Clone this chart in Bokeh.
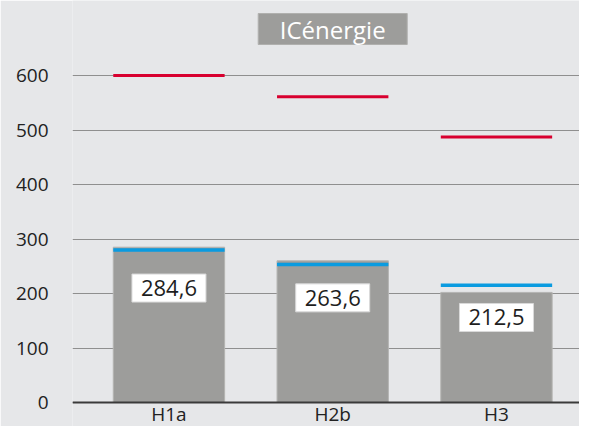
from bokeh.plotting import figure
from bokeh.models import Range1d, FixedTicker, ColumnDataSource, Span
from bokeh.core.properties import value
from bokeh.embed import file_html
from bokeh.resources import INLINE

categories = ["H1a", "H2b", "H3"]
bar_values = [285, 260, 202]
blue_values = [280, 253, 215]
red_values = [600, 561, 487]
label_texts = ["284,6", "263,6", "212,5"]
label_pos = [210, 192, 156]
y_ticks = [0, 100, 200, 300, 400, 500, 600]
title_text = "ICénergie"

FONT = "Open Sans"
BG = "#e6e7e9"
GRAY = "#9d9d9b"

W, H = 579, 426
zero_px = 402  # pixel row of value 0 from top of figure
px_per_unit = (zero_px - 75) / 600
y_start = (zero_px - H) / px_per_unit
y_end = zero_px / px_per_unit

p = figure(width=W, height=H, output_backend="svg", toolbar_location=None,
           x_range=Range1d(-0.089, 3.007), y_range=Range1d(y_start, y_end),
           min_border_left=72, min_border_right=0, min_border_top=0,
           min_border_bottom=0)
p.background_fill_color = BG
p.border_fill_color = BG
p.outline_line_color = None

xs = [i + 0.5 for i in range(len(categories))]
bw = 0.68

src = ColumnDataSource(dict(x=xs, top=bar_values, blue=blue_values, red=red_values,
                            x0=[x - bw / 2 for x in xs], x1=[x + bw / 2 for x in xs],
                            lab=label_texts, ly=label_pos, cat=categories))

# grid
p.xgrid.grid_line_color = None
p.ygrid.ticker = FixedTicker(ticks=y_ticks)
p.ygrid.grid_line_color = "#8f8f8f"
p.ygrid.grid_line_width = 1

p.vbar(x="x", top="top", width=bw, bottom=0, source=src,
       fill_color=GRAY, line_color="#b4b4b2", line_width=1)
p.segment(x0="x0", x1="x1", y0="blue", y1="blue", source=src,
          line_color="#0a9be0", line_width=3.5)
p.segment(x0="x0", x1="x1", y0="red", y1="red", source=src,
          line_color="#d8002f", line_width=3)
p.rect(x="x", y="ly", width=74, height=28, width_units="screen", height_units="screen",
       source=src, fill_color="white", line_color="#d9d9d9", line_width=1)
p.text(x="x", y="ly", text="lab", source=src, text_align="center",
       text_baseline="middle", text_font=value(FONT), text_font_size="22px",
       text_color="#1e1e1e")

# baseline axis line at 0
p.add_layout(Span(location=0, dimension="width", line_color="#3a3a3a", line_width=2))

# category labels below the baseline
cat_y = -11.5 / px_per_unit
p.text(x="x", y=cat_y, text="cat", source=src, text_align="center",
       text_baseline="middle", text_font=value(FONT), text_font_size="19px",
       text_color="#222222")

# title box
title_y = y_end - 28.5 / px_per_unit
p.rect(x=[xs[1]], y=[title_y], width=149, height=31,
       width_units="screen", height_units="screen", fill_color=GRAY, line_color="#b0b0ae")
p.text(x=[xs[1]], y=[title_y], text=[title_text], text_align="center",
       text_baseline="middle", text_font=value(FONT), text_font_size="24px",
       text_color="white")

# axes
p.yaxis.ticker = FixedTicker(ticks=y_ticks)
p.yaxis.axis_line_color = None
p.yaxis.major_tick_line_color = None
p.yaxis.minor_tick_line_color = None
p.yaxis.major_label_standoff = 18
p.yaxis.major_label_text_font = FONT
p.yaxis.major_label_text_font_size = "19px"
p.yaxis.major_label_text_color = "#222222"
p.xaxis.visible = False

open("out.html", "w").write(file_html(p, INLINE))
